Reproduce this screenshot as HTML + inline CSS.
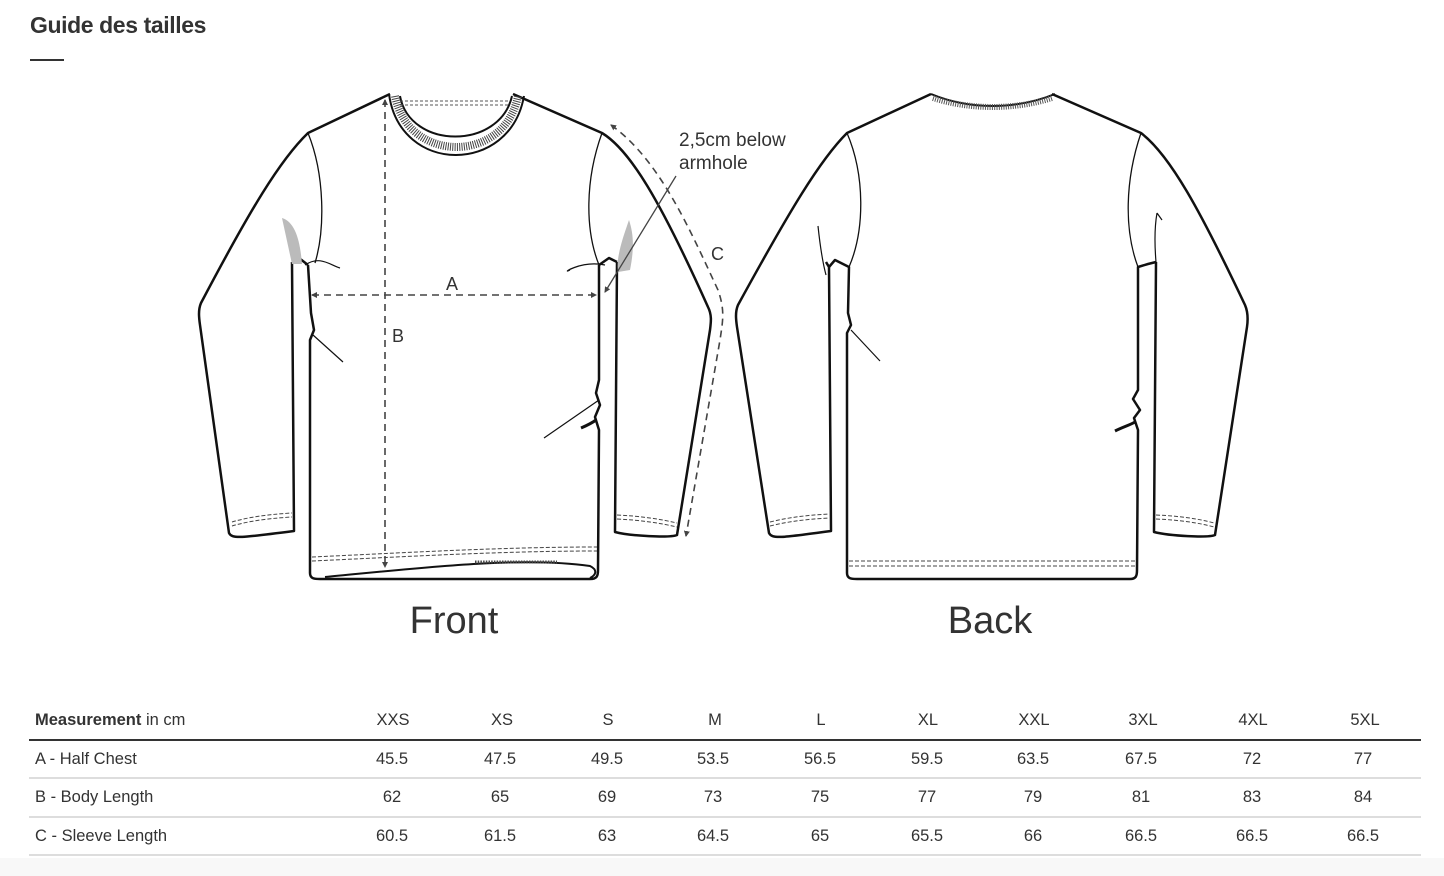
<!DOCTYPE html>
<html><head><meta charset="utf-8"><style>
body{margin:0;width:1444px;height:876px;background:#fff;font-family:"Liberation Sans",sans-serif;color:#333;position:relative;overflow:hidden}
h1{position:absolute;left:30px;top:12px;margin:0;font-size:23px;font-weight:bold;color:#333;letter-spacing:-0.4px}
.bar{position:absolute;left:30px;top:59px;width:34px;height:2px;background:#333}
svg{position:absolute;left:0;top:0}
.t{position:absolute;font-size:16.5px;color:#333}
.row{position:absolute;left:29px;width:1392px;height:0;border-top:2px solid #ddd}
.foot{position:absolute;left:0;top:858px;width:1444px;height:18px;background:#f8f8f8}
</style></head><body>
<h1>Guide des tailles</h1><div class="bar"></div>
<svg width="1444" height="700" viewBox="0 0 1444 700">
<defs><marker id="ar" markerWidth="6" markerHeight="6" refX="5" refY="3" orient="auto-start-reverse" markerUnits="userSpaceOnUse"><path d="M0,0 L6,3 L0,6 z" fill="#444"/></marker></defs>
<g fill="none" stroke="#111" stroke-width="2.5" stroke-linejoin="round">
<!-- FRONT -->
<path d="M390,94 L308,133 C280,160 250,210 201,303 C198,310 199,318 200,325 L229,533 C232,539 240,538 294,531 L292,262"/>
<path d="M513,94 L602,133 C630,150 660,200 708,307 C712,315 711,322 710,330 L677,535 C670,538 630,536 615,532 L617,262"/>
<path d="M308,265 L311,313 L314,330 L310,340 L310,573 C310,579 315,579 320,579 L590,579 C597,579 598,576 598,570 L599,430 L595,417 L600,405 L596,393 L599,380 L599,265"/>
<path d="M292,262 L299,258 L308,265 M617,262 L609,258 L599,265"/>
<path d="M325,577 C420,568 520,556 590,566 C598,570 596,575 590,578" stroke-width="2"/>
<path d="M389,94 C400,175 510,175 524,96 M400,96 C410,150 500,150 512,96" stroke-width="2"/>
<path d="M395,96 C408,164 505,164 518,96" stroke="#444" stroke-width="8" stroke-dasharray="1 1.3"/>
<path d="M400,101 L510,101 M400,105 L510,105" stroke="#555" stroke-width="1" stroke-dasharray="3 2"/>
<path d="M308,133 C325,175 325,230 315,263 M602,133 C585,180 585,230 599,265" stroke-width="1.3"/>
<path d="M313,335 L343,362 M599,400 L544,438 M305,265 C320,255 330,265 340,268 M605,265 C580,260 560,275 570,270" stroke-width="1.2"/>
<path d="M581,428 C588,425 592,423 596,420" stroke-width="3"/>
<path d="M232,522 C252,516 275,514 292,513 M232,526 C252,520 275,518 292,517 M617,515 C640,516 660,519 677,523 M617,519 C640,520 660,523 677,527 M312,557 C400,553 500,547 597,547 M312,561 C400,557 500,551 597,551" stroke="#444" stroke-width="1" stroke-dasharray="4 2"/>
<path d="M475,562 L557,562" stroke="#444" stroke-width="3" stroke-dasharray="1.5 1.2"/>
<!-- BACK -->
<path d="M931,94 L847,133 C820,160 790,210 738,305 C735,312 736,320 737,327 L769,533 C772,539 780,538 831,531 L829,267 L826,262"/>
<path d="M1052,94 L1141,133 C1170,155 1200,210 1245,305 C1248,312 1248,320 1247,327 L1215,535 C1208,538 1170,536 1154,532 L1156,262"/>
<path d="M829,267 L835,260 L849,267 L848,313 L851,325 L847,333 L847,573 C847,579 852,579 857,579 L1130,579 C1136,579 1137,576 1137,570 L1138,430 L1134,418 L1140,410 L1133,399 L1138,390 L1138,267 L1148,264 L1156,262"/>
<path d="M931,94 C970,110 1015,110 1055,94" stroke-width="2"/>
<path d="M933,98 C970,110 1015,110 1052,98" stroke="#555" stroke-width="6" stroke-dasharray="1 1.3"/>
<path d="M847,133 C865,175 865,230 849,267 M1141,133 C1125,180 1124,230 1138,267" stroke-width="1.3"/>
<path d="M851,330 L880,361 M818,226 C820,245 822,260 826,275 M1157,213 C1154,230 1155,250 1156,262 M1157,213 L1162,220" stroke-width="1.2"/>
<path d="M1115,431 C1123,427 1130,425 1135,422" stroke-width="3"/>
<path d="M770,522 C790,517 810,515 829,514 M770,526 C790,521 810,519 829,518 M1156,515 C1180,516 1200,519 1214,523 M1156,519 C1180,520 1200,523 1214,527 M849,561 L1135,561 M849,566 L1135,566" stroke="#444" stroke-width="1" stroke-dasharray="4 2"/>
</g>
<path d="M282,218 C295,222 300,240 302,264 L292,264 Z" fill="#bbb"/>
<path d="M629,220 C622,240 616,258 618,272 L630,270 C634,250 634,235 629,220 Z" fill="#bbb"/>
<g fill="none" stroke="#444" stroke-width="1.6" stroke-dasharray="7 5">
<path d="M385,100 L385,567" marker-start="url(#ar)" marker-end="url(#ar)"/>
<path d="M312,295 L596,295" marker-start="url(#ar)" marker-end="url(#ar)"/>
<path d="M611,125 C660,160 690,230 718,290 C725,310 723,320 720,340 L686,536" marker-start="url(#ar)" marker-end="url(#ar)"/>
</g>
<path d="M676,176 L605,292" stroke="#444" stroke-width="1.3" marker-end="url(#ar)"/>
<g font-family="Liberation Sans, sans-serif" fill="#333">
<text x="446" y="290" font-size="18">A</text>
<text x="392" y="342" font-size="18">B</text>
<text x="711" y="260" font-size="18">C</text>
<text x="679" y="146" font-size="19">2,5cm below</text>
<text x="679" y="169" font-size="19">armhole</text>
<text x="454" y="633" font-size="38" text-anchor="middle">Front</text>
<text x="990" y="633" font-size="38" text-anchor="middle">Back</text>
</g>
</svg>
<div class="t" style="left:35px;top:711px"><b>Measurement</b> in cm</div>
<div style="position:absolute;left:29px;top:739px;width:1392px;height:2px;background:#333"></div>
<div class="row" style="top:777px"></div><div class="row" style="top:816px"></div><div class="row" style="top:854px"></div>
<div class="t" style="left:35px;top:750px">A - Half Chest</div>
<div class="t" style="left:35px;top:788px">B - Body Length</div>
<div class="t" style="left:35px;top:827px">C - Sleeve Length</div>
<div class="foot"></div>
<div class="t" style="left:343px;top:711px;width:100px;text-align:center">XXS</div>
<div class="t" style="left:452px;top:711px;width:100px;text-align:center">XS</div>
<div class="t" style="left:558px;top:711px;width:100px;text-align:center">S</div>
<div class="t" style="left:665px;top:711px;width:100px;text-align:center">M</div>
<div class="t" style="left:771px;top:711px;width:100px;text-align:center">L</div>
<div class="t" style="left:878px;top:711px;width:100px;text-align:center">XL</div>
<div class="t" style="left:984px;top:711px;width:100px;text-align:center">XXL</div>
<div class="t" style="left:1093px;top:711px;width:100px;text-align:center">3XL</div>
<div class="t" style="left:1203px;top:711px;width:100px;text-align:center">4XL</div>
<div class="t" style="left:1315px;top:711px;width:100px;text-align:center">5XL</div>
<div class="t" style="left:342px;top:750px;width:100px;text-align:center">45.5</div>
<div class="t" style="left:450px;top:750px;width:100px;text-align:center">47.5</div>
<div class="t" style="left:557px;top:750px;width:100px;text-align:center">49.5</div>
<div class="t" style="left:663px;top:750px;width:100px;text-align:center">53.5</div>
<div class="t" style="left:770px;top:750px;width:100px;text-align:center">56.5</div>
<div class="t" style="left:877px;top:750px;width:100px;text-align:center">59.5</div>
<div class="t" style="left:983px;top:750px;width:100px;text-align:center">63.5</div>
<div class="t" style="left:1091px;top:750px;width:100px;text-align:center">67.5</div>
<div class="t" style="left:1202px;top:750px;width:100px;text-align:center">72</div>
<div class="t" style="left:1313px;top:750px;width:100px;text-align:center">77</div>
<div class="t" style="left:342px;top:788px;width:100px;text-align:center">62</div>
<div class="t" style="left:450px;top:788px;width:100px;text-align:center">65</div>
<div class="t" style="left:557px;top:788px;width:100px;text-align:center">69</div>
<div class="t" style="left:663px;top:788px;width:100px;text-align:center">73</div>
<div class="t" style="left:770px;top:788px;width:100px;text-align:center">75</div>
<div class="t" style="left:877px;top:788px;width:100px;text-align:center">77</div>
<div class="t" style="left:983px;top:788px;width:100px;text-align:center">79</div>
<div class="t" style="left:1091px;top:788px;width:100px;text-align:center">81</div>
<div class="t" style="left:1202px;top:788px;width:100px;text-align:center">83</div>
<div class="t" style="left:1313px;top:788px;width:100px;text-align:center">84</div>
<div class="t" style="left:342px;top:827px;width:100px;text-align:center">60.5</div>
<div class="t" style="left:450px;top:827px;width:100px;text-align:center">61.5</div>
<div class="t" style="left:557px;top:827px;width:100px;text-align:center">63</div>
<div class="t" style="left:663px;top:827px;width:100px;text-align:center">64.5</div>
<div class="t" style="left:770px;top:827px;width:100px;text-align:center">65</div>
<div class="t" style="left:877px;top:827px;width:100px;text-align:center">65.5</div>
<div class="t" style="left:983px;top:827px;width:100px;text-align:center">66</div>
<div class="t" style="left:1091px;top:827px;width:100px;text-align:center">66.5</div>
<div class="t" style="left:1202px;top:827px;width:100px;text-align:center">66.5</div>
<div class="t" style="left:1313px;top:827px;width:100px;text-align:center">66.5</div>
</body></html>
